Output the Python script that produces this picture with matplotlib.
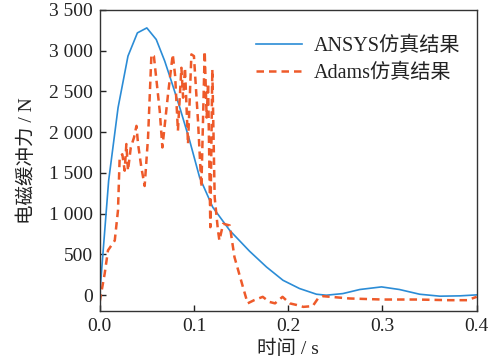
import matplotlib
matplotlib.use("Agg")
import matplotlib.pyplot as plt
from matplotlib.ticker import FuncFormatter

plt.rcParams['font.family'] = ['Liberation Serif', 'Noto Sans CJK SC']
plt.rcParams['mathtext.fontset'] = 'stix'

# ANSYS simulation result
t_ansys = [0.0, 0.0095, 0.0195, 0.030, 0.040, 0.050, 0.060, 0.069, 0.076, 0.085,
           0.0955, 0.106, 0.120, 0.138, 0.159, 0.177, 0.1945, 0.212, 0.230, 0.2405,
           0.258, 0.276, 0.299, 0.318, 0.3395, 0.361, 0.382, 0.4]
f_ansys = [0, 1406, 2302, 2934, 3219, 3280, 3138, 2873, 2628, 2302,
           1895, 1446, 1079, 795, 540, 346, 183, 82, 12, 0,
           20, 70, 102, 70, 12, -12, -8, 4]

# Adams simulation result
t_adams = [0.0, 0.0053, 0.0088, 0.016, 0.0194, 0.0212, 0.024, 0.0265, 0.0283, 0.030,
           0.033, 0.0364, 0.039, 0.0407, 0.0442, 0.0477, 0.0513, 0.0549, 0.0575, 0.0637,
           0.0665, 0.0725, 0.0775, 0.0800, 0.0830, 0.0867, 0.0885, 0.0905, 0.0937, 0.0973,
           0.1000, 0.1043, 0.1079, 0.1114, 0.1135, 0.1150, 0.1174, 0.1195, 0.1220, 0.1255,
           0.1270, 0.131, 0.138, 0.143, 0.152, 0.157, 0.164, 0.173, 0.180, 0.186,
           0.194, 0.2016, 0.209, 0.216, 0.226, 0.2316, 0.237, 0.265, 0.300, 0.336,
           0.371, 0.390, 0.400]
f_adams = [-80, 265, 550, 672, 1040, 1690, 1730, 1528, 1855, 1528,
           1813, 1935, 2078, 1855, 1568, 1340, 1935, 2955, 2934, 2262,
           1813, 2466, 2955, 2700, 2017, 2791, 2424, 2791, 1855, 2955,
           2934, 2140, 1324, 2995, 2180, 2600, 835, 2771, 1200, 795,
           672, 877, 856, 468, 100, -100, -60, -20, -82, -100,
           -20, -100, -120, -143, -134, -40, -12, -40, -53, -53,
           -61, -61, -20]

y_ticks = [0, 500, 1000, 1500, 2000, 2500, 3000, 3500]
x_ticks = [0.0, 0.1, 0.2, 0.3, 0.4]

fig = plt.figure(figsize=(4.95, 3.63), dpi=100)
ax = fig.add_axes([0.2014, 0.1441, 0.7616, 0.8284])

ax.plot(t_ansys, f_ansys, color='#2b8cd6', lw=1.2, label='ANSYS仿真结果')
ax.plot(t_adams, f_adams, color='#ee5a2a', lw=1.8, ls=(0, (3, 2)), label='Adams仿真结果')

ax.set_xlim(0, 0.4)
ax.set_ylim(-190, 3500)
ax.set_xticks(x_ticks)
ax.set_yticks(y_ticks)
ax.xaxis.set_major_formatter(FuncFormatter(lambda v, p: f"{v:.1f}"))
ax.yaxis.set_major_formatter(FuncFormatter(lambda v, p: f"{int(v):,}".replace(",", " ")))
ax.tick_params(direction='in', length=4, width=1.0, labelsize=14, colors='#222222', pad=5)
for s in ax.spines.values():
    s.set_linewidth(1.0)
    s.set_color('#333333')

ax.set_xlabel('时间 / s', fontsize=14, color='#222222', labelpad=4)
ax.set_ylabel('电磁缓冲力 / N', fontsize=14, color='#222222', labelpad=9)

leg = ax.legend(loc='upper right', frameon=False, fontsize=14.5, handlelength=2.3,
                handletextpad=0.6, labelspacing=0.4, borderaxespad=0.4,
                bbox_to_anchor=(1.0, 0.965))
for txt in leg.get_texts():
    txt.set_color('#222222')

fig.savefig('out.png', dpi=100)
